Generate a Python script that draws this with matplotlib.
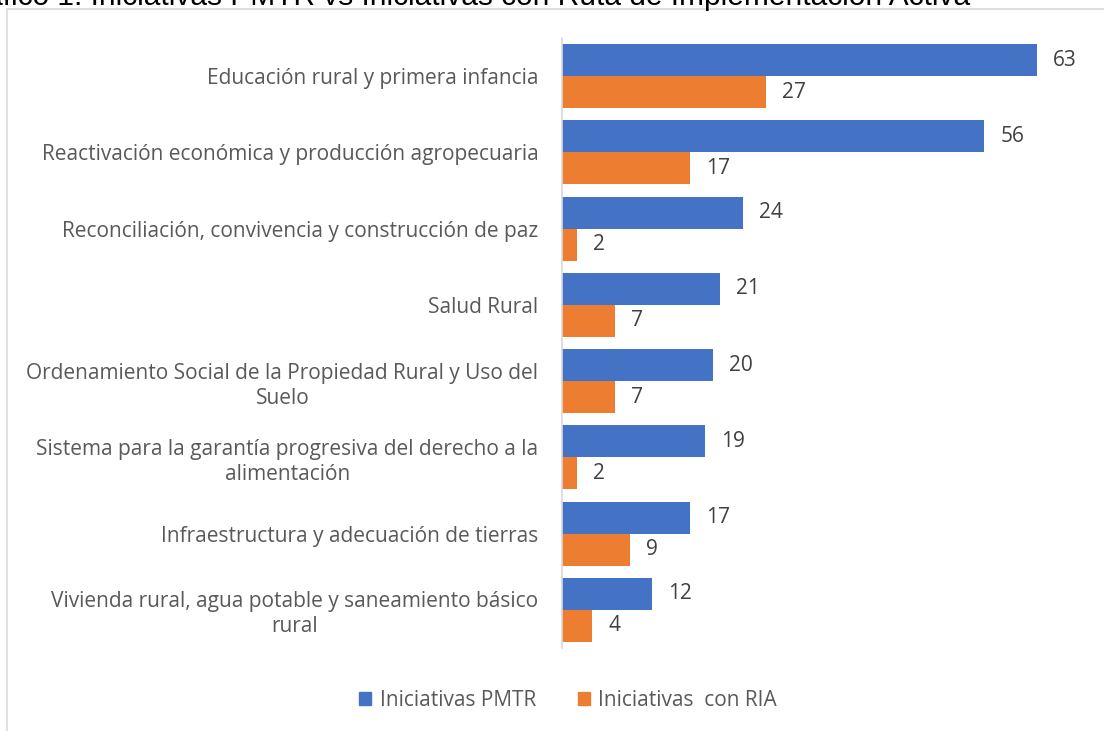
import matplotlib
matplotlib.use("Agg")
import matplotlib.pyplot as plt
from matplotlib.patches import Rectangle, Patch

categories = [
    "Educación rural y primera infancia",
    "Reactivación económica y producción agropecuaria",
    "Reconciliación, convivencia y construcción de paz",
    "Salud Rural",
    "Ordenamiento Social de la Propiedad Rural y Uso del\nSuelo",
    "Sistema para la garantía progresiva del derecho a la\nalimentación",
    "Infraestructura y adecuación de tierras",
    "Vivienda rural, agua potable y saneamiento básico\nrural",
]
pmtr = [63, 56, 24, 21, 20, 19, 17, 12]
ria = [27, 17, 2, 7, 7, 2, 9, 4]
series_names = ["Iniciativas PMTR", "Iniciativas  con RIA"]
title = "Gráfico 1. Iniciativas PMTR vs Iniciativas con Ruta de Implementación Activa"

blue = "#4472C4"
orange = "#ED7D31"
label_font = "Open Sans"
fs = 15

W, H = 1104, 731
fig = plt.figure(figsize=(W / 100, H / 100), dpi=100)

# chart border
fig.patches.append(Rectangle((7 / W, -0.05), 1.2, 1 - 9 / H + 0.05, transform=fig.transFigure,
                             fill=False, edgecolor="#D9D9D9", linewidth=1.2))

# cut-off title
fig.text(970 / W, 1 - 5 / H, title, ha="right", va="baseline", fontsize=21.5,
         family="Liberation Sans", color="black")

ax = fig.add_axes([562 / W, 1 - 648 / H, (1037 - 562) / W, (648 - 38) / H])
n = len(categories)
y = list(range(n))
h = 0.42
ax.barh([v - h / 2 for v in y], pmtr, height=h, color=blue)
ax.barh([v + h / 2 for v in y], ria, height=h, color=orange)
for i in range(n):
    ax.annotate(str(pmtr[i]), (pmtr[i], i - h / 2), xytext=(11.5, 0), textcoords="offset points",
                va="center", ha="left", fontsize=fs, color="#404040", family=label_font)
    ax.annotate(str(ria[i]), (ria[i], i + h / 2), xytext=(11.5, 0), textcoords="offset points",
                va="center", ha="left", fontsize=fs, color="#404040", family=label_font)

ax.set_xlim(0, 63)
ax.set_ylim(n - 0.5, -0.5)
ax.set_yticks(y)
ax.set_yticklabels(categories, fontsize=fs, color="#595959", family=label_font,
                   multialignment="center", linespacing=1.25)
ax.tick_params(axis="y", length=0, pad=17)
ax.set_xticks([])
for s in ["top", "right", "bottom"]:
    ax.spines[s].set_visible(False)
ax.spines["left"].set_color("#D9D9D9")
ax.spines["left"].set_linewidth(1.2)

handles = [Patch(color=blue), Patch(color=orange)]
fig.legend(handles, series_names, loc="center", bbox_to_anchor=(568 / W, 1 - 700 / H), ncol=2,
           frameon=False, handlelength=0.6, handleheight=0.6, columnspacing=2.0,
           handletextpad=0.4, prop={"family": label_font, "size": fs},
           labelcolor="#595959")

fig.savefig("out.png", dpi=100)
